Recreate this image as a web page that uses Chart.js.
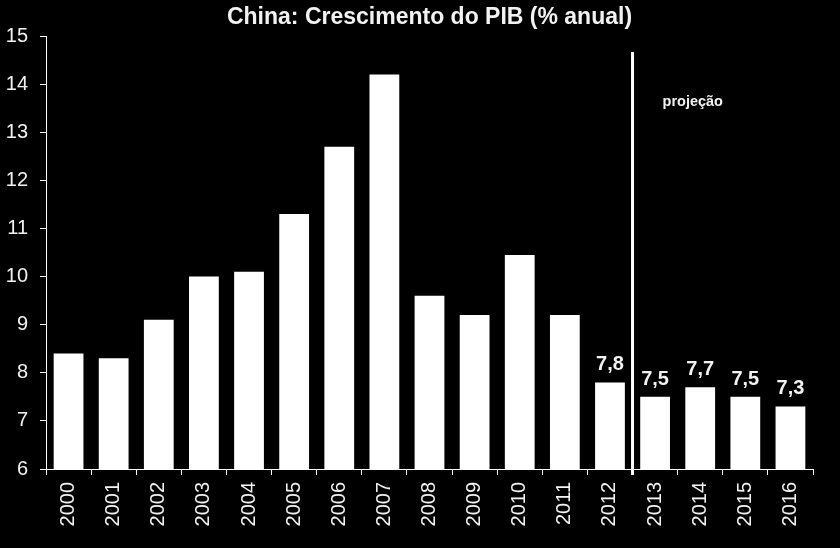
<!DOCTYPE html>
<html><head><meta charset="utf-8">
<script src="https://cdn.jsdelivr.net/npm/chart.js@4"></script>
<style>html,body{margin:0;background:#000}#wrap{width:840px;height:548px}</style>
</head><body><div id="wrap"><canvas id="c"></canvas></div>
<script>
const years=['2000','2001','2002','2003','2004','2005','2006','2007','2008','2009','2010','2011','2012','2013','2014','2015','2016'];
const growth=[8.4,8.3,9.1,10.0,10.1,11.3,12.7,14.2,9.6,9.2,10.45,9.2,7.8,7.5,7.7,7.5,7.3];
const labelFrom=12;      // value labels from 2012 onwards
const projAfter=12;      // projection starts after 2012
const projTop=14.67;     // top of the divider line (y value)
const projTextY=13.62;
const projText='projeção';
const titleText='China: Crescimento do PIB (% anual)';
const yMin=6,yMax=15;

const FONT='"Liberation Sans",Arial,sans-serif';
const FG='#f2f2f2';

const overlay={id:'overlay',afterDatasetsDraw(chart){
  const{ctx,chartArea:{top,bottom,left,right},scales:{x,y}}=chart;
  const meta=chart.getDatasetMeta(0);
  ctx.save();
  ctx.fillStyle=FG;
  ctx.font='bold 20px '+FONT;ctx.textAlign='center';ctx.textBaseline='alphabetic';
  meta.data.forEach((b,i)=>{ if(i<labelFrom) return; ctx.fillText(growth[i].toFixed(1).replace('.',','),b.x,b.y-12); });
  const xp=(x.getPixelForValue(projAfter)+x.getPixelForValue(projAfter+1))/2;
  ctx.strokeStyle='#fff';ctx.lineWidth=3;
  ctx.beginPath();ctx.moveTo(xp,y.getPixelForValue(projTop));ctx.lineTo(xp,bottom+6);ctx.stroke();
  ctx.font='bold 14.5px '+FONT;ctx.textAlign='left';ctx.textBaseline='middle';
  ctx.fillText(projText,xp+30,y.getPixelForValue(projTextY));
  ctx.font='bold 23px '+FONT;ctx.textAlign='center';
  ctx.fillText(titleText,(left+right)/2,top/2);
  ctx.restore();
}};

new Chart(document.getElementById('c'),{
  type:'bar',
  data:{labels:years,datasets:[{data:growth,backgroundColor:'#fff',borderWidth:0,barPercentage:0.66,categoryPercentage:1}]},
  options:{
    responsive:true,maintainAspectRatio:false,animation:false,
    layout:{padding:{top:36,right:27,bottom:0,left:0}},
    plugins:{legend:{display:false},tooltip:{enabled:false},title:{display:false}},
    scales:{
      x:{
        grid:{display:true,drawOnChartArea:false,drawTicks:true,tickLength:6,color:'#fff',offset:true},
        border:{display:true,color:'#fff',width:1},
        ticks:{color:FG,font:{size:20,family:FONT},minRotation:90,maxRotation:90,padding:7,autoSkip:false},
        afterFit(s){s.height=79;}
      },
      y:{
        min:yMin,max:yMax,
        grid:{display:true,drawOnChartArea:false,drawTicks:true,tickLength:6,color:'#fff'},
        border:{display:true,color:'#fff',width:1},
        ticks:{stepSize:1,color:FG,font:{size:20,family:FONT},padding:12},
        afterFit(s){s.width=46;}
      }
    }
  },
  plugins:[overlay]
});
</script>
</body></html>
